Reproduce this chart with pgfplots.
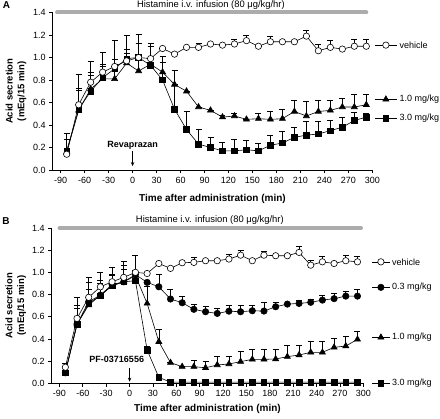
\documentclass[border=0pt]{standalone}
\usepackage{fontspec}
\setmainfont{Liberation Sans}
\usepackage{pgfplots}
\pgfplotsset{compat=1.18}
\usepackage{pgfplotstable}
\usetikzlibrary{arrows.meta}

% ---------------- Panel A data ----------------
\pgfplotstableread{
t v e
-82.5 0.14 0.13
-67.5 0.58 0.27
-52.5 0.78 0.19
-37.5 0.87 0.18
-22.5 0.92 0.06
-7.5 0.97 0.10
7.5 1.00 0.21
22.5 0.99 0.14
37.5 1.08 0
52.5 1.03 0
67.5 1.09 0
82.5 1.09 0.04
97.5 1.12 0
112.5 1.11 0
127.5 1.12 0.04
142.5 1.15 0.05
157.5 1.10 0
172.5 1.14 0.05
187.5 1.14 0
202.5 1.14 0
217.5 1.19 0.05
232.5 1.06 0.06
247.5 1.09 0.06
262.5 1.075 0
277.5 1.10 0.06
292.5 1.10 0.06
}\Aveh
\pgfplotstableread{
t v e
-82.5 0.16 0.17
-67.5 0.53 0.20
-52.5 0.72 0.15
-37.5 0.81 0.13
-22.5 0.81 0.34
-7.5 0.95 0.25
7.5 0.88 0.25
22.5 0.94 0.16
37.5 0.87 0.09
52.5 0.76 0.13
67.5 0.70 0
82.5 0.56 0
97.5 0.53 0
112.5 0.47 0.02
127.5 0.48 0.02
142.5 0.45 0
157.5 0.456 0.045
172.5 0.45 0.07
187.5 0.456 0.085
202.5 0.52 0.10
217.5 0.48 0.13
232.5 0.52 0.10
247.5 0.53 0.09
262.5 0.56 0.08
277.5 0.56 0.11
292.5 0.58 0.09
}\Atri
\pgfplotstableread{
t v e
-82.5 0.17 0
-67.5 0.54 0.17
-52.5 0.70 0.14
-37.5 0.82 0.10
-22.5 0.90 0.04
-7.5 0.99 0.05
7.5 1.00 0.13
22.5 0.93 0.17
37.5 0.80 0.21
52.5 0.54 0.22
67.5 0.36 0.16
82.5 0.23 0.13
97.5 0.20 0.09
112.5 0.17 0.08
127.5 0.17 0.10
142.5 0.18 0.08
157.5 0.17 0.07
172.5 0.22 0.09
187.5 0.24 0.10
202.5 0.29 0.09
217.5 0.31 0.12
232.5 0.32 0.11
247.5 0.35 0.09
262.5 0.38 0.09
277.5 0.44 0.07
292.5 0.47 0.03
}\Asq

% ---------------- Panel B data ----------------
\pgfplotstableread{
t v e
-82.5 0.145 0.035
-67.5 0.585 0.19
-52.5 0.775 0.185
-37.5 0.87 0.13
-22.5 0.915 0.135
-7.5 0.955 0.145
7.5 1.00 0.15
22.5 0.99 0
37.5 1.08 0
52.5 1.036 0
67.5 1.087 0
82.5 1.09 0.045
97.5 1.105 0
112.5 1.105 0
127.5 1.12 0.04
142.5 1.155 0.045
157.5 1.105 0
172.5 1.155 0.035
187.5 1.15 0
202.5 1.15 0
217.5 1.18 0.055
232.5 1.065 0.045
247.5 1.095 0.05
262.5 1.08 0
277.5 1.105 0.05
292.5 1.095 0.05
}\Bveh
\pgfplotstableread{
t v e
-82.5 0.095 0
-67.5 0.534 0.166
-52.5 0.735 0.18
-37.5 0.795 0.135
-22.5 0.89 0.085
-7.5 0.915 0.15
7.5 0.98 0.03
22.5 0.91 0
37.5 0.87 0.11
52.5 0.76 0.09
67.5 0.726 0.055
82.5 0.667 0.045
97.5 0.645 0.045
112.5 0.63 0.05
127.5 0.65 0.05
142.5 0.645 0.055
157.5 0.654 0.045
172.5 0.651 0.08
187.5 0.69 0.04
202.5 0.714 0
217.5 0.72 0.03
232.5 0.73 0.03
247.5 0.75 0.045
262.5 0.763 0.045
277.5 0.786 0.04
292.5 0.786 0.064
}\Bfc
\pgfplotstableread{
t v e
-82.5 0.10 0
-67.5 0.534 0.14
-52.5 0.705 0.145
-37.5 0.795 0.11
-22.5 0.88 0.10
-7.5 0.915 0.115
7.5 0.97 0.05
22.5 0.72 0.15
37.5 0.375 0.11
52.5 0.186 0
67.5 0.15 0
82.5 0.15 0.055
97.5 0.14 0.055
112.5 0.165 0.075
127.5 0.174 0.07
142.5 0.195 0.09
157.5 0.216 0.094
172.5 0.216 0.094
187.5 0.219 0.09
202.5 0.24 0.105
217.5 0.255 0.09
232.5 0.279 0.10
247.5 0.279 0.096
262.5 0.324 0.086
277.5 0.336 0.084
292.5 0.396 0.07
}\Btri
\pgfplotstableread{
t v e
-82.5 0.095 0
-67.5 0.53 0
-52.5 0.72 0
-37.5 0.79 0
-22.5 0.88 0
-7.5 0.915 0
7.5 0.925 0
22.5 0.30 0.03
37.5 0.054 0
52.5 0.01 0.01
67.5 0.01 0.01
82.5 0.01 0.01
97.5 0.01 0.01
112.5 0.01 0.01
127.5 0.01 0.01
142.5 0.01 0.01
157.5 0.01 0.01
172.5 0.01 0.01
187.5 0.01 0.01
202.5 0.01 0.01
217.5 0.01 0.01
232.5 0.01 0.01
247.5 0.01 0.01
262.5 0.01 0.01
277.5 0.01 0.01
292.5 0.01 0.01
}\Bsq

\definecolor{bargray}{RGB}{172,172,172}

\pgfplotsset{
  myaxis/.style={
    scale only axis,
    xmin=-100, xmax=300, ymin=0, ymax=1.4,
    axis lines*=left,
    axis line style={line width=0.8bp},
    xtick={-90,-60,-30,0,30,60,90,120,150,180,210,240,270,300},
    xticklabels={-90,-60,-30,0,30,60,90,120,150,180,210,240,270,300},
    ytick={0,0.2,0.4,0.6,0.8,1.0,1.2,1.4},
    yticklabels={0.0,0.2,0.4,0.6,0.8,1.0,1.2,1.4},
    tick align=outside,
    major tick length=3.5bp,
    tick style={line width=0.8bp, black},
    tick label style={font=\fontsize{9bp}{10bp}\selectfont},
    clip=false,
    xlabel={Time after administration (min)},
    ylabel={Acid secretion\\(mEq/15 min)},
    ylabel style={font=\bfseries\fontsize{9.5bp}{11.7bp}\selectfont, align=center,
      at={(axis description cs:-0.115,0.5)}, anchor=center},
    error bars/y dir=plus,
    error bars/y explicit,
    error bars/error bar style={line width=0.6bp, black},
    error bars/error mark options={rotate=90, mark size=3bp, line width=0.6bp, black},
  },
  veh/.style={black, line width=0.6bp, mark=*, mark size=3.2bp, mark options={fill=white, solid}},
  fc/.style={black, line width=0.6bp, mark=*, mark size=3.2bp, mark options={fill=black, solid}},
  tri/.style={black, line width=0.6bp, mark=triangle*, mark size=3.5bp, mark options={fill=black, solid}},
  sq/.style={black, line width=0.6bp, mark=square*, mark size=2.8bp, mark options={fill=black, solid}},
}

\newcommand{\lf}{\fontsize{9bp}{10bp}\selectfont}
\newcommand{\hf}{\fontsize{9.4bp}{10bp}\selectfont}

\begin{document}
\begin{tikzpicture}
\path[use as bounding box] (0,0) rectangle (440bp,419bp);

\node[font=\bfseries\fontsize{10bp}{12bp}\selectfont] at (6.5bp,414bp) {A};
\node[font=\bfseries\fontsize{10bp}{12bp}\selectfont] at (6bp,198bp) {B};

% ---------------- Panel A ----------------
\begin{axis}[myaxis,
  at={(52.7bp,249bp)}, anchor=south west,
  width=319.6bp, height=157.5bp,
  xlabel style={font=\bfseries\fontsize{10bp}{12bp}\selectfont, at={(axis description cs:0.5,-0.184)}, anchor=center},
]
\addplot[no marks, line width=4bp, line cap=round, bargray, forget plot] coordinates {(-94.5,1.4) (292.5,1.4)};
\node[font=\hf] at (axis cs:98,1.47) {Histamine i.v. infusion (80 μg/kg/hr)};

\addplot[sq, error bars/.cd, y dir=plus, y explicit] table[x=t, y=v, y error=e] {\Asq};
\addplot[tri, error bars/.cd, y dir=plus, y explicit] table[x=t, y=v, y error=e] {\Atri};
\addplot[veh, error bars/.cd, y dir=plus, y explicit] table[x=t, y=v, y error=e] {\Aveh};

% legend samples
\addplot[veh, mark indices={2}] coordinates {(303,1.11) (317,1.11) (331,1.11)};
\addplot[tri, mark indices={2}] coordinates {(303,0.628) (317,0.628) (331,0.628)};
\addplot[sq, mark indices={2}] coordinates {(303,0.459) (317,0.459) (331,0.459)};
\node[font=\lf, anchor=west, inner sep=0pt] at (axis cs:334,1.11) {vehicle};
\node[font=\lf, anchor=west, inner sep=0pt] at (axis cs:334,0.628) {1.0 mg/kg};
\node[font=\lf, anchor=west, inner sep=0pt] at (axis cs:334,0.459) {3.0 mg/kg};

\node[font=\bfseries\fontsize{9bp}{10bp}\selectfont] at (axis cs:0,0.222) {Revaprazan};
\draw[line width=0.7bp, -{Stealth[length=4bp, width=3.5bp]}] (axis cs:0,0.165) -- (axis cs:0,0.035);
\end{axis}

% ---------------- Panel B ----------------
\begin{axis}[myaxis,
  at={(51.7bp,35.7bp)}, anchor=south west,
  width=311.6bp, height=155.3bp,
  xlabel style={font=\bfseries\fontsize{10bp}{12bp}\selectfont, at={(axis description cs:0.5,-0.165)}, anchor=center},
]
\addplot[no marks, line width=4bp, line cap=round, bargray, forget plot] coordinates {(-90,1.4) (297,1.4)};
\node[font=\hf] at (axis cs:103,1.472) {Histamine i.v. infusion (80 μg/kg/hr)};

\addplot[sq, error bars/.cd, y dir=plus, y explicit] table[x=t, y=v, y error=e] {\Bsq};
\addplot[tri, error bars/.cd, y dir=plus, y explicit] table[x=t, y=v, y error=e] {\Btri};
\addplot[fc, error bars/.cd, y dir=plus, y explicit] table[x=t, y=v, y error=e] {\Bfc};
\addplot[veh, error bars/.cd, y dir=plus, y explicit] table[x=t, y=v, y error=e] {\Bveh};

% legend samples
\addplot[veh, mark indices={2}] coordinates {(311,1.095) (322.6,1.095) (334,1.095)};
\addplot[fc, mark indices={2}] coordinates {(311,0.865) (322.6,0.865) (334,0.865)};
\addplot[tri, mark indices={2}] coordinates {(311,0.414) (322.6,0.414) (334,0.414)};
\addplot[sq, mark indices={2}] coordinates {(311,0.0) (322.6,0.0) (334,0.0)};
\node[font=\lf, anchor=west, inner sep=0pt] at (axis cs:336.7,1.095) {vehicle};
\node[font=\lf, anchor=west, inner sep=0pt] at (axis cs:336.7,0.865) {0.3 mg/kg};
\node[font=\lf, anchor=west, inner sep=0pt] at (axis cs:336.7,0.414) {1.0 mg/kg};
\node[font=\lf, anchor=west, inner sep=0pt] at (axis cs:336.7,0.0) {3.0 mg/kg};

\node[font=\bfseries\fontsize{9bp}{10bp}\selectfont] at (axis cs:-16.5,0.219) {PF-03716556};
\draw[line width=0.7bp, -{Stealth[length=4bp, width=3.5bp]}] (axis cs:0,0.14) -- (axis cs:0,0.015);
\end{axis}
\end{tikzpicture}
\end{document}
